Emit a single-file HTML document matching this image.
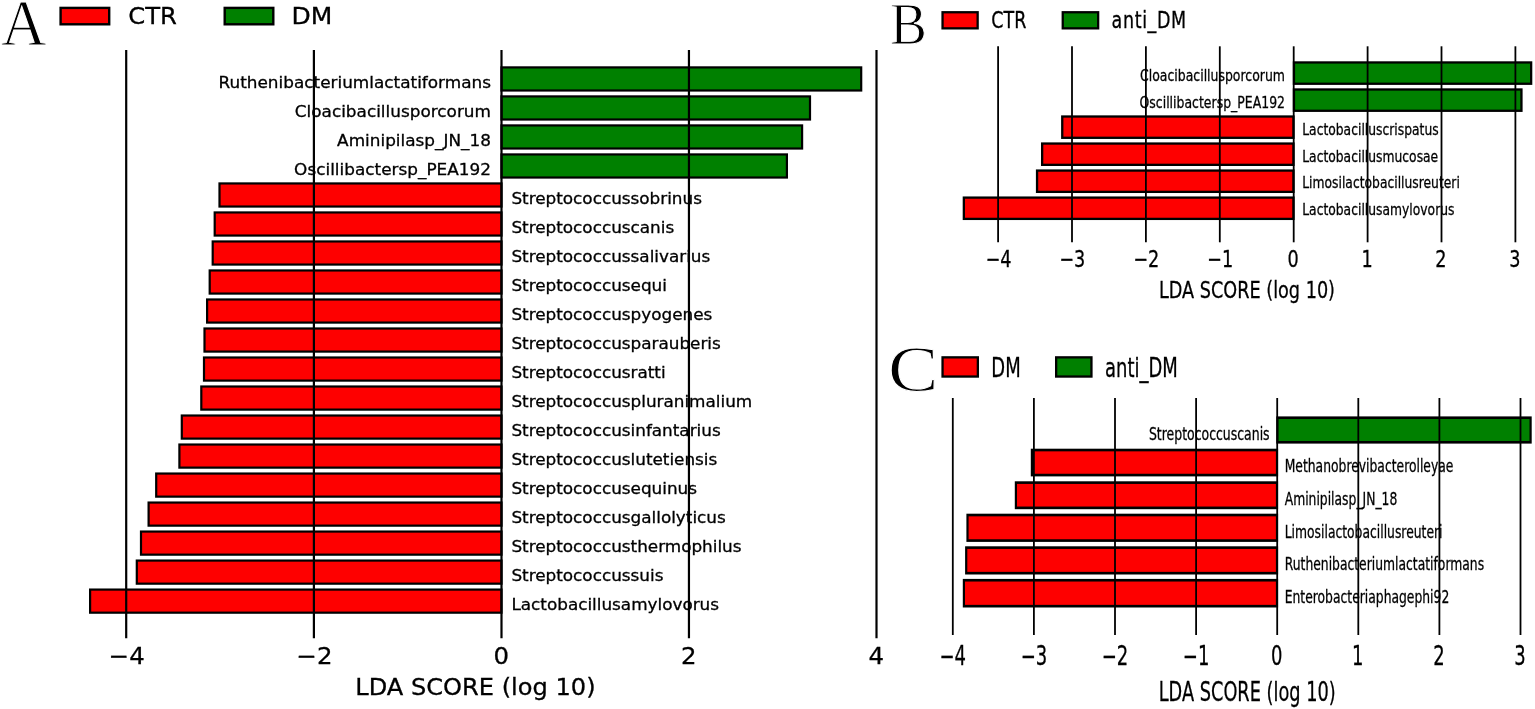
<!DOCTYPE html>
<html lang="en"><head><meta charset="utf-8"><title>LDA SCORE (log 10)</title>
<style>html,body{margin:0;padding:0;background:#fff}svg{display:block}text{font-family:"DejaVu Sans","Liberation Sans",sans-serif;fill:#000}</style></head>
<body><svg width="1535" height="709" viewBox="0 0 1535 709">
<rect width="1535" height="709" fill="#fff"/>
<g id="panelA">
<rect x="501.50" y="67.40" width="359.70" height="23.10" fill="#008000" stroke="#000" stroke-width="2.2"/>
<rect x="501.50" y="96.41" width="308.50" height="23.10" fill="#008000" stroke="#000" stroke-width="2.2"/>
<rect x="501.50" y="125.42" width="300.60" height="23.10" fill="#008000" stroke="#000" stroke-width="2.2"/>
<rect x="501.50" y="154.43" width="285.40" height="23.10" fill="#008000" stroke="#000" stroke-width="2.2"/>
<rect x="219.50" y="183.44" width="282.00" height="23.10" fill="#fe0000" stroke="#000" stroke-width="2.2"/>
<rect x="214.70" y="212.45" width="286.80" height="23.10" fill="#fe0000" stroke="#000" stroke-width="2.2"/>
<rect x="212.70" y="241.46" width="288.80" height="23.10" fill="#fe0000" stroke="#000" stroke-width="2.2"/>
<rect x="209.70" y="270.47" width="291.80" height="23.10" fill="#fe0000" stroke="#000" stroke-width="2.2"/>
<rect x="207.10" y="299.48" width="294.40" height="23.10" fill="#fe0000" stroke="#000" stroke-width="2.2"/>
<rect x="204.50" y="328.49" width="297.00" height="23.10" fill="#fe0000" stroke="#000" stroke-width="2.2"/>
<rect x="204.00" y="357.50" width="297.50" height="23.10" fill="#fe0000" stroke="#000" stroke-width="2.2"/>
<rect x="201.30" y="386.51" width="300.20" height="23.10" fill="#fe0000" stroke="#000" stroke-width="2.2"/>
<rect x="181.80" y="415.52" width="319.70" height="23.10" fill="#fe0000" stroke="#000" stroke-width="2.2"/>
<rect x="179.40" y="444.53" width="322.10" height="23.10" fill="#fe0000" stroke="#000" stroke-width="2.2"/>
<rect x="156.20" y="473.54" width="345.30" height="23.10" fill="#fe0000" stroke="#000" stroke-width="2.2"/>
<rect x="148.60" y="502.55" width="352.90" height="23.10" fill="#fe0000" stroke="#000" stroke-width="2.2"/>
<rect x="141.00" y="531.56" width="360.50" height="23.10" fill="#fe0000" stroke="#000" stroke-width="2.2"/>
<rect x="136.80" y="560.57" width="364.70" height="23.10" fill="#fe0000" stroke="#000" stroke-width="2.2"/>
<rect x="90.10" y="589.58" width="411.40" height="23.10" fill="#fe0000" stroke="#000" stroke-width="2.2"/>
<line x1="126.20" x2="126.20" y1="50" y2="638.2" stroke="#000" stroke-width="2.2"/>
<line x1="313.90" x2="313.90" y1="50" y2="638.2" stroke="#000" stroke-width="2.2"/>
<line x1="501.50" x2="501.50" y1="50" y2="638.2" stroke="#000" stroke-width="2.2"/>
<line x1="688.95" x2="688.95" y1="50" y2="638.2" stroke="#000" stroke-width="2.2"/>
<line x1="876.50" x2="876.50" y1="50" y2="638.2" stroke="#000" stroke-width="2.2"/>
<text transform="translate(491.00,87.85) scale(1.055,1.0)" font-size="16" text-anchor="end" stroke="#000" stroke-width="0.3">Ruthenibacteriumlactatiformans</text>
<text transform="translate(491.00,116.86) scale(1.055,1.0)" font-size="16" text-anchor="end" stroke="#000" stroke-width="0.3">Cloacibacillusporcorum</text>
<text transform="translate(491.00,145.87) scale(1.055,1.0)" font-size="16" text-anchor="end" stroke="#000" stroke-width="0.3">Aminipilasp_JN_18</text>
<text transform="translate(491.00,174.88) scale(1.055,1.0)" font-size="16" text-anchor="end" stroke="#000" stroke-width="0.3">Oscillibactersp_PEA192</text>
<text transform="translate(511.40,203.89) scale(1.052,1.0)" font-size="16" text-anchor="start" stroke="#000" stroke-width="0.3">Streptococcussobrinus</text>
<text transform="translate(511.40,232.90) scale(1.052,1.0)" font-size="16" text-anchor="start" stroke="#000" stroke-width="0.3">Streptococcuscanis</text>
<text transform="translate(511.40,261.91) scale(1.052,1.0)" font-size="16" text-anchor="start" stroke="#000" stroke-width="0.3">Streptococcussalivarius</text>
<text transform="translate(511.40,290.92) scale(1.052,1.0)" font-size="16" text-anchor="start" stroke="#000" stroke-width="0.3">Streptococcusequi</text>
<text transform="translate(511.40,319.93) scale(1.052,1.0)" font-size="16" text-anchor="start" stroke="#000" stroke-width="0.3">Streptococcuspyogenes</text>
<text transform="translate(511.40,348.94) scale(1.052,1.0)" font-size="16" text-anchor="start" stroke="#000" stroke-width="0.3">Streptococcusparauberis</text>
<text transform="translate(511.40,377.95) scale(1.052,1.0)" font-size="16" text-anchor="start" stroke="#000" stroke-width="0.3">Streptococcusratti</text>
<text transform="translate(511.40,406.96) scale(1.052,1.0)" font-size="16" text-anchor="start" stroke="#000" stroke-width="0.3">Streptococcuspluranimalium</text>
<text transform="translate(511.40,435.97) scale(1.052,1.0)" font-size="16" text-anchor="start" stroke="#000" stroke-width="0.3">Streptococcusinfantarius</text>
<text transform="translate(511.40,464.98) scale(1.052,1.0)" font-size="16" text-anchor="start" stroke="#000" stroke-width="0.3">Streptococcuslutetiensis</text>
<text transform="translate(511.40,493.99) scale(1.052,1.0)" font-size="16" text-anchor="start" stroke="#000" stroke-width="0.3">Streptococcusequinus</text>
<text transform="translate(511.40,523.00) scale(1.052,1.0)" font-size="16" text-anchor="start" stroke="#000" stroke-width="0.3">Streptococcusgallolyticus</text>
<text transform="translate(511.40,552.01) scale(1.052,1.0)" font-size="16" text-anchor="start" stroke="#000" stroke-width="0.3">Streptococcusthermophilus</text>
<text transform="translate(511.40,581.02) scale(1.052,1.0)" font-size="16" text-anchor="start" stroke="#000" stroke-width="0.3">Streptococcussuis</text>
<text transform="translate(511.40,610.03) scale(1.052,1.0)" font-size="16" text-anchor="start" stroke="#000" stroke-width="0.3">Lactobacillusamylovorus</text>
<text transform="translate(126.80,664.20) scale(1.03,1.0)" font-size="23.7" text-anchor="middle" stroke="#000" stroke-width="0.3">−4</text>
<text transform="translate(314.50,664.20) scale(1.03,1.0)" font-size="23.7" text-anchor="middle" stroke="#000" stroke-width="0.3">−2</text>
<text transform="translate(501.20,664.20) scale(1.03,1.0)" font-size="23.7" text-anchor="middle" stroke="#000" stroke-width="0.3">0</text>
<text transform="translate(688.65,664.20) scale(1.03,1.0)" font-size="23.7" text-anchor="middle" stroke="#000" stroke-width="0.3">2</text>
<text transform="translate(876.20,664.20) scale(1.03,1.0)" font-size="23.7" text-anchor="middle" stroke="#000" stroke-width="0.3">4</text>
<text transform="translate(475.40,695.40) scale(1.035,1.0)" font-size="23.3" text-anchor="middle" stroke="#000" stroke-width="0.3">LDA SCORE (log 10)</text>
<rect x="60.60" y="7.90" width="48.60" height="16.40" fill="#fe0000" stroke="#000" stroke-width="2.4"/>
<text transform="translate(128.30,24.00) scale(1.03,1.0)" font-size="23.6" text-anchor="start" stroke="#000" stroke-width="0.3">CTR</text>
<rect x="224.70" y="7.90" width="48.60" height="16.40" fill="#008000" stroke="#000" stroke-width="2.4"/>
<text transform="translate(291.40,24.00) scale(1.06,1.0)" font-size="23.6" text-anchor="start" stroke="#000" stroke-width="0.3">DM</text>
<text transform="translate(1.00,45.20) scale(1.0,1.035)" font-size="63" text-anchor="start" style='font-family:"Liberation Serif","DejaVu Serif",serif' stroke="#fff" stroke-width="1.0">A</text>
</g>
<g id="panelB">
<rect x="1293.95" y="62.45" width="237.20" height="21.30" fill="#008000" stroke="#000" stroke-width="2.3"/>
<rect x="1293.95" y="89.48" width="227.50" height="21.30" fill="#008000" stroke="#000" stroke-width="2.3"/>
<rect x="1062.25" y="116.51" width="231.20" height="21.30" fill="#fe0000" stroke="#000" stroke-width="2.3"/>
<rect x="1042.15" y="143.54" width="251.30" height="21.30" fill="#fe0000" stroke="#000" stroke-width="2.3"/>
<rect x="1037.05" y="170.57" width="256.40" height="21.30" fill="#fe0000" stroke="#000" stroke-width="2.3"/>
<rect x="963.85" y="197.60" width="329.60" height="21.30" fill="#fe0000" stroke="#000" stroke-width="2.3"/>
<line x1="998.10" x2="998.10" y1="46.3" y2="242.3" stroke="#000" stroke-width="1.8"/>
<line x1="1072.00" x2="1072.00" y1="46.3" y2="242.3" stroke="#000" stroke-width="1.8"/>
<line x1="1145.90" x2="1145.90" y1="46.3" y2="242.3" stroke="#000" stroke-width="1.8"/>
<line x1="1219.80" x2="1219.80" y1="46.3" y2="242.3" stroke="#000" stroke-width="1.8"/>
<line x1="1293.70" x2="1293.70" y1="46.3" y2="242.3" stroke="#000" stroke-width="1.8"/>
<line x1="1367.60" x2="1367.60" y1="46.3" y2="242.3" stroke="#000" stroke-width="1.8"/>
<line x1="1441.50" x2="1441.50" y1="46.3" y2="242.3" stroke="#000" stroke-width="1.8"/>
<line x1="1515.40" x2="1515.40" y1="46.3" y2="242.3" stroke="#000" stroke-width="1.8"/>
<text transform="translate(1285.00,81.10) scale(0.775,1.0)" font-size="16.1" text-anchor="end" stroke="#000" stroke-width="0.3">Cloacibacillusporcorum</text>
<text transform="translate(1285.00,107.90) scale(0.775,1.0)" font-size="16.1" text-anchor="end" stroke="#000" stroke-width="0.3">Oscillibactersp_PEA192</text>
<text transform="translate(1302.20,134.70) scale(0.767,1.0)" font-size="16.1" text-anchor="start" stroke="#000" stroke-width="0.3">Lactobacilluscrispatus</text>
<text transform="translate(1302.20,161.50) scale(0.767,1.0)" font-size="16.1" text-anchor="start" stroke="#000" stroke-width="0.3">Lactobacillusmucosae</text>
<text transform="translate(1302.20,188.30) scale(0.767,1.0)" font-size="16.1" text-anchor="start" stroke="#000" stroke-width="0.3">Limosilactobacillusreuteri</text>
<text transform="translate(1302.20,215.10) scale(0.767,1.0)" font-size="16.1" text-anchor="start" stroke="#000" stroke-width="0.3">Lactobacillusamylovorus</text>
<text transform="translate(998.40,267.40) scale(0.775,1.0)" font-size="22.8" text-anchor="middle" stroke="#000" stroke-width="0.3">−4</text>
<text transform="translate(1072.30,267.40) scale(0.775,1.0)" font-size="22.8" text-anchor="middle" stroke="#000" stroke-width="0.3">−3</text>
<text transform="translate(1146.20,267.40) scale(0.775,1.0)" font-size="22.8" text-anchor="middle" stroke="#000" stroke-width="0.3">−2</text>
<text transform="translate(1220.10,267.40) scale(0.775,1.0)" font-size="22.8" text-anchor="middle" stroke="#000" stroke-width="0.3">−1</text>
<text transform="translate(1293.10,267.40) scale(0.775,1.0)" font-size="22.8" text-anchor="middle" stroke="#000" stroke-width="0.3">0</text>
<text transform="translate(1367.00,267.40) scale(0.775,1.0)" font-size="22.8" text-anchor="middle" stroke="#000" stroke-width="0.3">1</text>
<text transform="translate(1440.90,267.40) scale(0.775,1.0)" font-size="22.8" text-anchor="middle" stroke="#000" stroke-width="0.3">2</text>
<text transform="translate(1514.80,267.40) scale(0.775,1.0)" font-size="22.8" text-anchor="middle" stroke="#000" stroke-width="0.3">3</text>
<text transform="translate(1247.00,298.10) scale(0.775,1.0)" font-size="22.8" text-anchor="middle" stroke="#000" stroke-width="0.3">LDA SCORE (log 10)</text>
<rect x="942.55" y="12.25" width="35.10" height="16.10" fill="#fe0000" stroke="#000" stroke-width="2.3"/>
<text transform="translate(991.30,28.30) scale(0.775,1.0)" font-size="22.6" text-anchor="start" stroke="#000" stroke-width="0.3">CTR</text>
<rect x="1062.75" y="12.25" width="35.40" height="16.10" fill="#008000" stroke="#000" stroke-width="2.3"/>
<text transform="translate(1111.60,28.30) scale(0.775,1.0)" font-size="22.6" text-anchor="start" stroke="#000" stroke-width="0.3" letter-spacing="0.8">anti_DM</text>
<text transform="translate(890.00,44.00) scale(0.93,1.0)" font-size="59.6" text-anchor="start" style='font-family:"Liberation Serif","DejaVu Serif",serif' stroke="#fff" stroke-width="1.0">B</text>
</g>
<g id="panelC">
<g transform="scale(1,1.2)">
<rect x="1277.40" y="348.10" width="253.20" height="20.47" fill="#008000" stroke="#000" stroke-width="2.2"/>
<rect x="1031.90" y="375.02" width="245.10" height="20.88" fill="#fe0000" stroke="#000" stroke-width="2.2"/>
<rect x="1015.90" y="402.18" width="261.10" height="21.05" fill="#fe0000" stroke="#000" stroke-width="2.2"/>
<rect x="967.50" y="429.18" width="309.50" height="21.30" fill="#fe0000" stroke="#000" stroke-width="2.2"/>
<rect x="966.20" y="456.35" width="310.80" height="21.30" fill="#fe0000" stroke="#000" stroke-width="2.2"/>
<rect x="963.90" y="483.52" width="313.10" height="21.63" fill="#fe0000" stroke="#000" stroke-width="2.2"/>
</g>
<line x1="952.80" x2="952.80" y1="398.0" y2="635.0" stroke="#000" stroke-width="1.8"/>
<line x1="1033.90" x2="1033.90" y1="398.0" y2="635.0" stroke="#000" stroke-width="1.8"/>
<line x1="1115.00" x2="1115.00" y1="398.0" y2="635.0" stroke="#000" stroke-width="1.8"/>
<line x1="1196.10" x2="1196.10" y1="398.0" y2="635.0" stroke="#000" stroke-width="1.8"/>
<line x1="1277.20" x2="1277.20" y1="398.0" y2="635.0" stroke="#000" stroke-width="1.8"/>
<line x1="1358.30" x2="1358.30" y1="398.0" y2="635.0" stroke="#000" stroke-width="1.8"/>
<line x1="1439.40" x2="1439.40" y1="398.0" y2="635.0" stroke="#000" stroke-width="1.8"/>
<line x1="1520.50" x2="1520.50" y1="398.0" y2="635.0" stroke="#000" stroke-width="1.8"/>
<text transform="translate(1269.60,439.90) scale(0.717,1.0)" font-size="17.4" text-anchor="end" stroke="#000" stroke-width="0.3">Streptococcuscanis</text>
<text transform="translate(1284.70,472.45) scale(0.71,1.0)" font-size="17.4" text-anchor="start" stroke="#000" stroke-width="0.3">Methanobrevibacterolleyae</text>
<text transform="translate(1284.70,505.00) scale(0.71,1.0)" font-size="17.4" text-anchor="start" stroke="#000" stroke-width="0.3">Aminipilasp_JN_18</text>
<text transform="translate(1284.70,537.55) scale(0.71,1.0)" font-size="17.4" text-anchor="start" stroke="#000" stroke-width="0.3">Limosilactobacillusreuteri</text>
<text transform="translate(1284.70,570.10) scale(0.71,1.0)" font-size="17.4" text-anchor="start" stroke="#000" stroke-width="0.3">Ruthenibacteriumlactatiformans</text>
<text transform="translate(1284.70,602.65) scale(0.71,1.0)" font-size="17.4" text-anchor="start" stroke="#000" stroke-width="0.3">Enterobacteriaphagephi92</text>
<text transform="translate(952.80,664.60) scale(0.698,1.0)" font-size="25.8" text-anchor="middle" stroke="#000" stroke-width="0.3">−4</text>
<text transform="translate(1033.90,664.60) scale(0.698,1.0)" font-size="25.8" text-anchor="middle" stroke="#000" stroke-width="0.3">−3</text>
<text transform="translate(1115.00,664.60) scale(0.698,1.0)" font-size="25.8" text-anchor="middle" stroke="#000" stroke-width="0.3">−2</text>
<text transform="translate(1196.10,664.60) scale(0.698,1.0)" font-size="25.8" text-anchor="middle" stroke="#000" stroke-width="0.3">−1</text>
<text transform="translate(1276.70,664.60) scale(0.698,1.0)" font-size="25.8" text-anchor="middle" stroke="#000" stroke-width="0.3">0</text>
<text transform="translate(1357.80,664.60) scale(0.698,1.0)" font-size="25.8" text-anchor="middle" stroke="#000" stroke-width="0.3">1</text>
<text transform="translate(1438.90,664.60) scale(0.698,1.0)" font-size="25.8" text-anchor="middle" stroke="#000" stroke-width="0.3">2</text>
<text transform="translate(1520.00,664.60) scale(0.698,1.0)" font-size="25.8" text-anchor="middle" stroke="#000" stroke-width="0.3">3</text>
<text transform="translate(1247.20,700.90) scale(0.683,1.0)" font-size="26" text-anchor="middle" stroke="#000" stroke-width="0.3">LDA SCORE (log 10)</text>
<rect x="942.55" y="357.35" width="35.30" height="19.20" fill="#fe0000" stroke="#000" stroke-width="2.3"/>
<text transform="translate(991.30,376.50) scale(0.684,1.0)" font-size="26.3" text-anchor="start" stroke="#000" stroke-width="0.3">DM</text>
<rect x="1056.15" y="357.35" width="35.30" height="19.20" fill="#008000" stroke="#000" stroke-width="2.3"/>
<text transform="translate(1105.00,376.50) scale(0.684,1.0)" font-size="26.3" text-anchor="start" stroke="#000" stroke-width="0.3">anti_DM</text>
<text transform="translate(888.00,391.10) scale(1.2,1.045)" font-size="63" text-anchor="start" style='font-family:"Liberation Serif","DejaVu Serif",serif' stroke="#fff" stroke-width="1.0">C</text>
</g>
</svg></body></html>
